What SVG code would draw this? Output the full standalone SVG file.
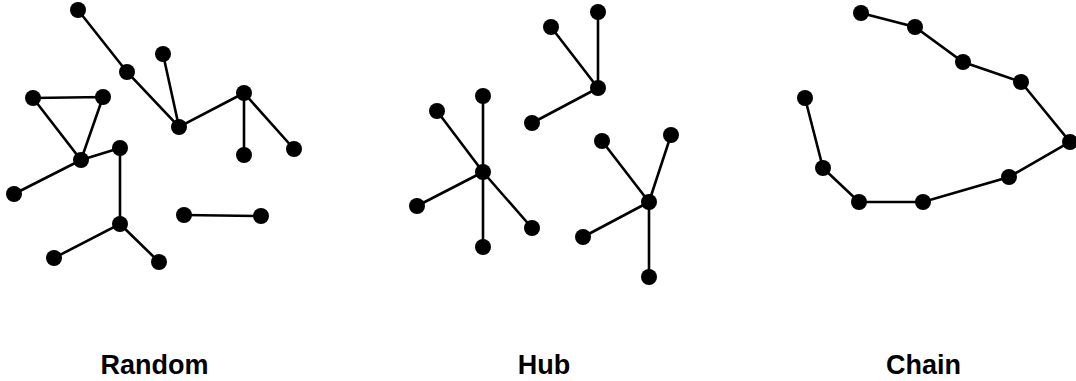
<svg xmlns="http://www.w3.org/2000/svg" width="1076" height="381" viewBox="0 0 1076 381">
<style>
.e{stroke:#000;stroke-width:2.6;fill:none;stroke-linecap:round}
.n{fill:#000}
.t{font-family:"Liberation Sans",Arial,sans-serif;font-weight:bold;font-size:27px;fill:#000;text-anchor:middle}
</style>
<rect width="1076" height="381" fill="#fff"/>
<g id="connectors">
<path class="e" d="M78 10L127 72L179 127L244 93L244 155M244 93L294 149M163 54L179 127M33 98L103 97L81 160L33 98M81 160L120 148L120 224L54 258M120 224L159 262M81 160L14 194M184 215L261 216"/>
<path class="e" d="M483 172L483 96M483 172L437 111M483 172L417 206M483 172L483 247M483 172L532 228M598 88L598 12M598 88L551 27M598 88L532 123M649 202L602 141M649 202L671 135M649 202L583 237M649 202L649 277"/>
<path class="e" d="M861 13L915 27L963 62L1021 82L1070 142L1009 177L923 202L859 202L823 168L805 98"/>
</g>
<g id="random">
<circle class="n" cx="78" cy="10" r="8"/><circle class="n" cx="127" cy="72" r="8"/><circle class="n" cx="163" cy="54" r="8"/><circle class="n" cx="179" cy="127" r="8"/><circle class="n" cx="244" cy="93" r="8"/><circle class="n" cx="244" cy="155" r="8"/><circle class="n" cx="294" cy="149" r="8"/><circle class="n" cx="33" cy="98" r="8"/><circle class="n" cx="103" cy="97" r="8"/><circle class="n" cx="81" cy="160" r="8"/><circle class="n" cx="120" cy="148" r="8"/><circle class="n" cx="14" cy="194" r="8"/><circle class="n" cx="120" cy="224" r="8"/><circle class="n" cx="54" cy="258" r="8"/><circle class="n" cx="159" cy="262" r="8"/><circle class="n" cx="184" cy="215" r="8"/><circle class="n" cx="261" cy="216" r="8"/>
</g>
<g id="hub">
<circle class="n" cx="483" cy="172" r="8"/><circle class="n" cx="483" cy="96" r="8"/><circle class="n" cx="437" cy="111" r="8"/><circle class="n" cx="417" cy="206" r="8"/><circle class="n" cx="483" cy="247" r="8"/><circle class="n" cx="532" cy="228" r="8"/>
<circle class="n" cx="598" cy="88" r="8"/><circle class="n" cx="598" cy="12" r="8"/><circle class="n" cx="551" cy="27" r="8"/><circle class="n" cx="532" cy="123" r="8"/>
<circle class="n" cx="649" cy="202" r="8"/><circle class="n" cx="602" cy="141" r="8"/><circle class="n" cx="671" cy="135" r="8"/><circle class="n" cx="583" cy="237" r="8"/><circle class="n" cx="649" cy="277" r="8"/>
</g>
<g id="chain">
<circle class="n" cx="861" cy="13" r="8"/><circle class="n" cx="915" cy="27" r="8"/><circle class="n" cx="963" cy="62" r="8"/><circle class="n" cx="1021" cy="82" r="8"/><circle class="n" cx="1070" cy="142" r="8"/><circle class="n" cx="1009" cy="177" r="8"/><circle class="n" cx="923" cy="202" r="8"/><circle class="n" cx="859" cy="202" r="8"/><circle class="n" cx="823" cy="168" r="8"/><circle class="n" cx="805" cy="98" r="8"/>
</g>
<g id="labels">
<text class="t" x="154.5" y="374">Random</text>
<text class="t" x="544" y="374">Hub</text>
<text class="t" x="923.5" y="374">Chain</text>
</g>
</svg>
